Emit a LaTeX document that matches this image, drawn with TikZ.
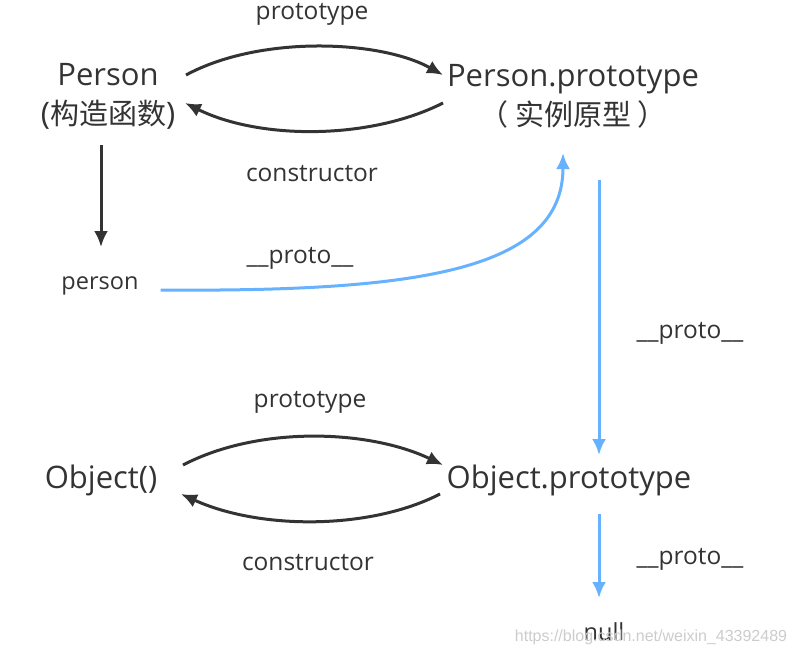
\documentclass[tikz,border=0pt]{standalone}
\usepackage{fontspec}
\setmainfont{Open Sans}
\newfontfamily\cjk{Noto Sans CJK SC}
\newfontfamily\wmfont{Liberation Sans}
\usetikzlibrary{arrows.meta}
\definecolor{ink}{RGB}{51,51,51}
\definecolor{sky}{RGB}{102,178,255}
\begin{document}
\begin{tikzpicture}[x=1pt,y=-1pt,
  big/.style={inner sep=0pt,text=ink,font=\fontsize{31}{39}\selectfont,align=center},
  lbl/.style={inner sep=0pt,text=ink,font=\fontsize{24.5}{28}\selectfont},
  inst/.style={inner sep=0pt,text=ink,font=\fontsize{23.5}{28}\selectfont},
  darr/.style={draw=ink,line width=3pt,-{Latex[length=16pt,width=14pt]}},
  barr/.style={draw=sky,line width=3pt,-{Latex[length=16pt,width=14pt]}}]
\useasboundingbox (0,0) rectangle (797,656);
% nodes
\node[big] (P) at (108,96) {Person\\({\cjk\fontsize{29}{39}\selectfont 构造函数})};
\node[big] (PP) at (573,96) {Person.prototype\\{\cjk\fontsize{29}{39}\selectfont （ 实例原型 ）}};
\node[inst] (p) at (100,286) {person};
\node[big] (O) at (101,480) {Object()};
\node[big] (OP) at (569,480) {Object.prototype};
\node[inst] (n) at (604,632) {null};
% labels
\node[lbl] (l1) at (312,14) {prototype};
\node[lbl] (l2) at (312,174) {constructor};
\node[lbl] (l3) at (300,258) {\_\_proto\_\_};
\node[lbl] (l4) at (690,333) {\_\_proto\_\_};
\node[lbl] (l5) at (310,402) {prototype};
\node[lbl] (l6) at (308,563) {constructor};
\node[lbl] (l7) at (690,559) {\_\_proto\_\_};
\node[inner sep=0pt,text=black!20,font=\wmfont\fontsize{16}{18}\selectfont] (wm) at (651,637) {https://blog.csdn.net/weixin\_43392489};
% connectors: Person <-> Person.prototype
\draw[darr] ([shift={(78,-21)}]P.center) .. controls (260,35) and (380,40) .. ([shift={(-130,-21)}]PP.center);
\draw[darr] ([shift={(-130,7)}]PP.center) .. controls (370,140) and (260,140) .. ([shift={(77,7)}]P.center);
\draw[darr] ([shift={(-7,49)}]P.center) -- ([shift={(-7,151)}]P.center);
\draw[barr] ([shift={(22,4)}]p.east) .. controls (420,292) and (563,270) .. ([shift={(-10,57)}]PP.center);
\draw[barr] ([shift={(26,84)}]PP.center) -- ([shift={(30,-25)}]OP.center);
% Object <-> Object.prototype
\draw[darr] ([shift={(82,-15)}]O.center) .. controls (260,425) and (370,430) .. ([shift={(-126,-15)}]OP.center);
\draw[darr] ([shift={(-129,14)}]OP.center) .. controls (370,530) and (260,530) .. ([shift={(80,14)}]O.center);
\draw[barr] ([shift={(30,34)}]OP.center) -- ([shift={(-5,-34)}]n.center);
\end{tikzpicture}
\end{document}
